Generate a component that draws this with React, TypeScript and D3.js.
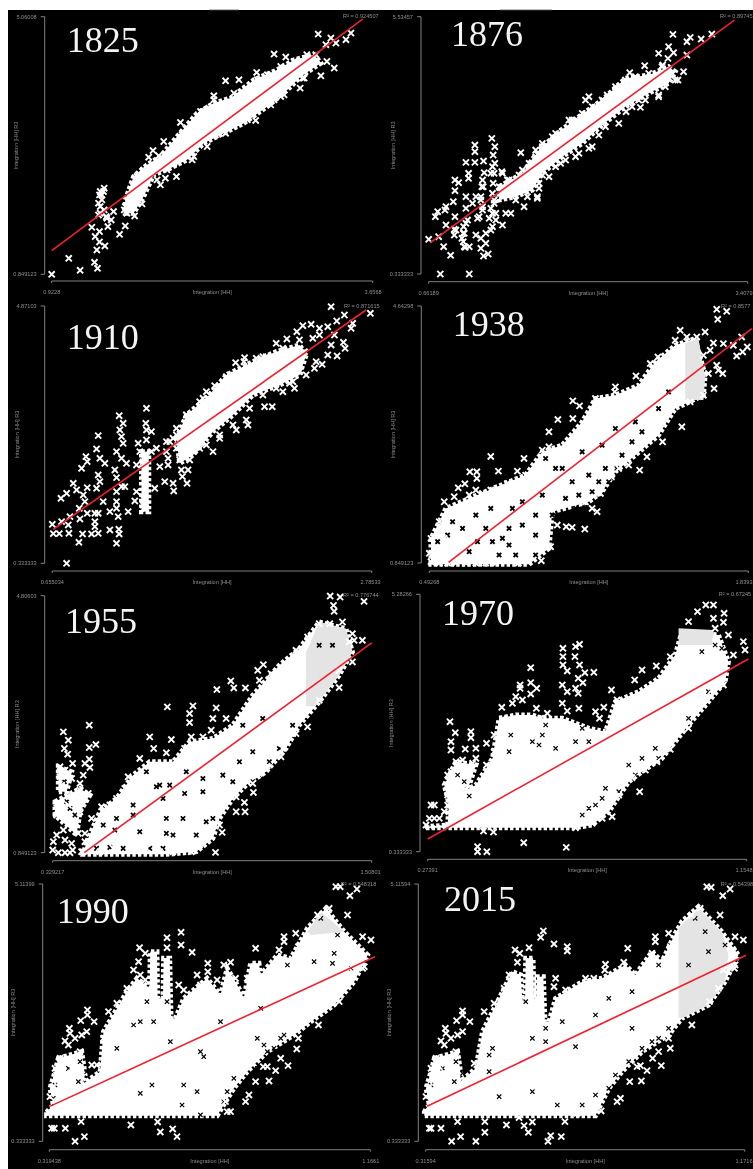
import React from "react";
import * as d3 from "d3";

type P = [number, number];

// Every reading below is a position along the panel's own axes, on a 0..960 (x) by 0..772 (y) reading grid.
const READ_X = 960;
const READ_Y = 772;

const cloud1825: P[] = [[220,223],[245,293],[285,328],[325,353],[375,413],[435,483],[485,513],[535,528],[605,583],[675,613],[725,643],[785,658],[805,633],[745,593],[705,553],[645,503],[575,453],[515,423],[455,393],[405,343],[355,318],[305,298],[275,233],[245,183],[220,183]];
const marks1825: P[] = [[0,0],[51,48],[85,12],[128,36],[137,18],[135,73],[159,85],[143,97],[130,113],[143,128],[120,141],[168,143],[203,120],[178,163],[163,173],[185,188],[140,178],[157,193],[220,145],[248,175],[145,203],[150,223],[143,238],[157,258],[145,248],[230,213],[270,211],[325,268],[340,288],[335,398],[303,371],[290,351],[320,355],[345,355],[373,293],[420,343],[385,455],[445,488],[485,535],[520,580],[560,583],[613,605],[665,660],[700,651],[763,658],[797,720],[835,708],[820,688],[850,693],[880,703],[895,723],[823,638],[845,618],[805,595],[743,558],[695,538],[610,461],[490,418],[520,423],[465,383],[425,353],[285,313],[255,263],[225,193],[220,203],[275,303],[405,423],[545,543],[635,573],[685,608],[730,628],[775,633],[755,588],[665,523],[585,463],[545,448],[235,233],[245,263],[255,293],[275,313],[300,328],[225,183],[217,193],[235,223],[270,268],[285,283],[310,323],[355,353],[365,383],[390,418],[415,438],[435,473],[455,488],[470,498],[485,523],[445,413],[485,433],[525,448],[565,463],[615,493],[655,508],[685,533],[715,578],[750,588],[685,623],[725,638],[765,648],[790,658],[530,518],[565,533],[580,553],[615,583],[645,598],[505,493],[435,393],[390,353],[365,333],[345,313],[315,283],[150,238],[140,213],[155,248],[145,183],[165,168]];

const cloud1876: P[] = [[212,262],[282,302],[332,372],[392,427],[452,472],[522,522],[592,587],[662,597],[722,622],[742,607],[722,572],[662,542],[592,502],[522,447],[462,392],[402,352],[342,302],[312,252],[262,232],[212,222]];
const marks1876: P[] = [[35,0],[122,0],[0,104],[66,56],[45,82],[30,112],[165,54],[179,60],[172,92],[157,77],[157,107],[110,80],[122,82],[100,107],[77,117],[142,117],[52,147],[79,172],[77,134],[105,142],[82,132],[20,172],[27,187],[52,202],[74,217],[49,192],[112,197],[112,232],[142,232],[162,192],[147,167],[182,167],[202,182],[222,147],[192,142],[247,182],[287,202],[327,227],[112,335],[139,335],[165,339],[139,387],[139,367],[190,407],[199,382],[194,357],[199,332],[120,302],[120,287],[79,282],[90,274],[79,250],[162,282],[164,262],[167,304],[187,302],[220,307],[277,364],[302,332],[192,242],[197,212],[157,232],[132,212],[152,172],[117,162],[107,122],[262,252],[297,232],[332,257],[397,332],[442,352],[482,377],[512,417],[482,532],[537,537],[594,487],[637,500],[605,604],[650,625],[692,662],[722,682],[735,719],[737,664],[720,647],[704,627],[777,697],[787,710],[820,705],[852,720],[767,607],[750,582],[777,657],[692,537],[442,462],[472,522],[422,462],[382,422],[342,382],[322,352],[562,562],[632,522],[712,562],[282,312],[242,282],[322,372],[342,392],[372,412],[402,427],[432,462],[462,482],[492,502],[522,522],[562,552],[592,582],[622,592],[662,602],[702,622],[382,322],[412,342],[452,362],[492,382],[532,442],[572,452],[612,502],[652,522],[692,532],[742,582],[222,302],[237,282],[272,297],[302,312],[327,232],[332,272],[292,252],[262,222],[232,182],[212,262],[197,222],[192,182],[202,162],[187,132],[172,122],[362,292],[342,297],[104,97],[107,82],[104,122],[112,152],[162,202],[157,222],[160,262],[192,322],[197,302],[194,272],[187,197]];

const cloud1910: P[] = [[373,375],[403,445],[463,495],[523,565],[603,605],[673,635],[743,655],[763,625],[743,565],[683,535],[603,505],[543,445],[483,395],[423,325],[383,300]];
const strip1910: P[] = [[268,335],[290,335],[290,155],[268,155]];
const marks1910: P[] = [[43,0],[0,117],[3,89],[21,89],[50,90],[80,63],[91,88],[118,88],[138,90],[173,100],[200,102],[201,88],[193,60],[48,115],[28,125],[53,140],[83,133],[105,150],[128,150],[138,150],[128,125],[128,110],[81,165],[93,205],[98,185],[26,195],[43,210],[63,240],[73,220],[105,227],[88,285],[101,320],[105,305],[133,343],[138,383],[143,315],[158,300],[138,265],[143,245],[133,225],[153,185],[173,155],[193,165],[228,155],[198,140],[188,280],[193,257],[208,230],[218,230],[193,215],[193,185],[208,315],[223,300],[193,335],[213,360],[208,380],[203,400],[213,420],[201,443],[283,465],[281,420],[283,400],[298,395],[258,360],[283,370],[263,335],[253,295],[253,215],[248,187],[281,165],[323,290],[308,225],[338,245],[363,240],[365,217],[388,280],[408,280],[391,260],[405,240],[348,295],[343,335],[353,365],[373,385],[413,310],[443,345],[483,335],[503,375],[553,400],[583,430],[638,470],[661,470],[588,415],[693,515],[728,525],[788,585],[811,597],[828,625],[856,622],[880,645],[875,663],[838,655],[848,685],[898,705],[903,720],[878,745],[855,727],[838,770],[956,750],[828,710],[803,705],[778,717],[753,713],[735,695],[705,673],[673,660],[578,617],[551,602],[576,605],[643,600],[488,533],[463,515],[443,485],[403,445],[793,605],[723,545],[763,565],[633,620],[533,565],[373,405],[403,445],[433,460],[453,495],[493,515],[523,560],[563,565],[613,615],[643,620],[693,645],[743,670],[783,675],[803,685],[758,635],[743,575],[713,540],[673,525],[633,505],[593,465],[543,415],[503,385],[463,355],[423,335],[383,310],[373,345],[388,365],[273,305],[273,265],[273,195],[273,175],[283,245],[298,335],[313,345],[343,365],[348,315],[363,375]];

const cloud1938: P[] = [[5,-4],[5,74],[50,164],[120,194],[240,244],[290,264],[340,334],[400,354],[460,424],[500,494],[560,504],[630,534],[680,604],[740,654],[800,674],[830,564],[825,504],[740,464],[690,384],[620,324],[560,274],[520,214],[480,184],[370,154],[360,44],[300,-4]];
const shade1938: P[] = [[770,660],[810,674],[830,560],[825,490],[770,490]];
const holes1938: P[] = [[25,64],[55,84],[100,104],[140,144],[185,164],[250,164],[190,64],[220,74],[240,104],[260,24],[210,24],[145,64],[70,124],[30,124],[120,34],[170,104],[320,24],[320,144],[320,84],[370,144],[410,194],[440,164],[340,204],[380,284],[400,284],[350,314],[520,354],[530,284],[580,324],[610,364],[640,394],[560,404],[460,334],[480,264],[540,244],[490,214],[430,244],[280,114],[240,54],[280,184],[510,244],[450,204],[565,284],[620,424],[690,464],[720,514]];
const marks1938: P[] = [[0,29],[22,34],[5,74],[20,92],[45,74],[30,124],[52,154],[45,184],[75,199],[62,149],[87,226],[107,238],[122,274],[143,274],[143,254],[185,320],[208,276],[265,276],[285,314],[120,204],[140,219],[160,209],[185,219],[215,219],[235,239],[290,264],[305,244],[340,339],[360,349],[360,394],[387,431],[432,487],[452,472],[432,434],[465,419],[500,494],[508,479],[560,529],[558,514],[622,562],[688,619],[665,599],[740,669],[755,699],[775,679],[805,679],[830,694],[855,661],[885,659],[865,762],[895,756],[868,732],[940,679],[915,654],[957,649],[943,634],[925,622],[883,569],[865,594],[870,579],[857,524],[840,569],[825,624],[845,639],[825,504],[785,484],[760,409],[702,364],[655,319],[633,279],[600,294],[570,284],[548,259],[515,209],[490,164],[505,154],[468,102],[430,107],[412,109],[385,114],[365,49],[350,59],[337,7],[295,6],[268,0],[230,4],[200,0],[170,0],[140,0],[110,0],[80,0],[55,0],[30,0],[5,4],[320,104],[360,164],[470,184]];

const cloud1955: P[] = [[102,33],[142,123],[192,163],[242,233],[292,273],[362,273],[412,333],[482,343],[542,383],[602,473],[682,563],[742,613],[802,693],[882,673],[902,603],[862,533],[802,453],[742,383],[702,313],[642,243],[582,203],[542,163],[502,103],[482,43],[432,3],[342,-5],[92,-5]];
const left1955: P[] = [[7,153],[82,193],[112,173],[82,123],[72,53],[7,113]];
const upper1955: P[] = [[17,258],[57,243],[42,183],[17,183]];
const shade1955: P[] = [[762,600],[802,693],[882,673],[902,603],[862,533],[790,440],[762,440]];
const holes1955: P[] = [[312,198],[332,163],[242,143],[132,13],[172,16],[152,83],[187,68],[242,113],[342,103],[392,103],[362,53],[332,13],[397,178],[452,183],[452,223],[352,203],[402,243],[312,293],[482,103],[462,93],[562,273],[602,213],[652,273],[632,403],[572,383],[802,623],[842,623],[262,63],[212,13],[322,203],[342,58],[292,13],[542,213],[512,233],[432,53],[282,243],[192,103],[722,383],[602,303],[682,313],[42,153],[67,113],[32,73],[52,133],[35,213]];
const marks1955: P[] = [[2,33],[12,53],[0,8],[17,0],[37,0],[52,0],[32,68],[37,38],[57,28],[60,8],[87,3],[97,33],[117,33],[77,58],[97,58],[72,88],[47,88],[12,148],[27,148],[12,113],[32,113],[47,143],[57,168],[82,188],[107,178],[72,138],[92,158],[82,123],[22,258],[22,228],[27,203],[47,233],[57,223],[37,248],[82,208],[92,233],[32,363],[47,338],[35,313],[45,296],[60,268],[110,383],[110,316],[130,325],[110,281],[97,268],[112,256],[117,103],[147,138],[172,143],[192,163],[217,193],[227,228],[262,283],[292,348],[304,313],[345,438],[357,340],[342,300],[412,418],[422,441],[412,391],[417,348],[397,313],[452,348],[477,368],[492,435],[482,403],[494,490],[522,403],[536,516],[545,495],[580,495],[617,548],[634,565],[657,538],[622,518],[642,493],[607,453],[702,568],[732,608],[767,648],[802,688],[834,688],[872,693],[845,743],[847,725],[835,771],[865,768],[937,755],[902,658],[932,638],[907,638],[892,633],[902,573],[862,548],[862,496],[802,458],[767,378],[722,358],[732,358],[692,313],[687,288],[645,260],[622,238],[602,208],[604,181],[577,151],[579,123],[552,123],[510,61],[490,1],[442,23],[417,3],[362,3],[322,3],[282,13],[242,13],[182,13],[142,3],[92,3],[502,83],[552,168],[472,63]];

const cloud1970: P[] = [[-8,75],[60,80],[65,160],[145,200],[195,280],[215,400],[265,410],[315,410],[345,400],[405,400],[485,370],[535,360],[565,450],[635,480],[695,520],[745,590],[765,660],[875,650],[905,570],[895,510],[845,450],[785,380],[745,330],[705,280],[645,240],[605,210],[545,120],[495,80],[445,72],[-8,72]];
const left1970: P[] = [[50,200],[85,270],[145,260],[125,200],[60,160]];
const shade1970: P[] = [[755,670],[860,665],[855,620],[755,620]];
const holes1970: P[] = [[125,167],[250,350],[245,300],[345,350],[335,320],[315,330],[385,310],[445,330],[485,330],[355,380],[465,370],[535,190],[525,160],[485,130],[465,110],[605,260],[625,230],[685,310],[695,280],[645,280],[575,180],[585,160],[505,140],[865,620],[885,610],[825,600],[845,480],[785,400],[90,230],[110,210]];
const marks1970: P[] = [[150,15],[150,0],[178,0],[168,62],[198,59],[289,27],[417,13],[445,72],[-5,80],[5,100],[20,100],[35,100],[10,140],[20,140],[50,120],[60,140],[60,170],[60,230],[60,200],[70,240],[85,270],[70,305],[70,330],[67,390],[83,357],[113,308],[130,360],[130,342],[145,310],[145,280],[135,265],[105,275],[177,325],[177,260],[200,350],[200,300],[223,433],[225,398],[278,500],[278,490],[265,465],[285,455],[255,445],[310,552],[310,507],[310,473],[328,490],[327,430],[340,400],[360,415],[407,610],[407,585],[407,560],[420,542],[405,500],[420,480],[445,615],[457,622],[443,585],[457,560],[473,537],[500,538],[453,520],[467,507],[445,490],[453,475],[405,445],[420,422],[455,430],[505,420],[530,433],[517,400],[553,485],[570,455],[623,515],[645,545],[688,557],[730,585],[638,180],[615,222],[655,245],[690,270],[730,307],[785,370],[830,440],[855,485],[890,500],[920,590],[950,630],[955,605],[892,715],[890,688],[860,740],[837,740],[812,720],[785,690],[860,700],[865,670],[905,650],[525,100],[555,105],[495,85],[575,170],[215,320],[405,355],[485,355]];

const cloud1990: P[] = [[-8,87],[2,99],[82,159],[152,209],[162,329],[232,449],[262,489],[300,459],[302,569],[322,569],[324,429],[340,429],[342,549],[360,549],[364,369],[377,369],[402,429],[472,489],[512,439],[532,519],[562,469],[582,429],[602,534],[627,534],[632,499],[682,559],[722,549],[772,639],[827,699],[882,629],[952,559],[912,479],[852,409],[782,359],[732,319],[652,269],[592,209],[552,159],[502,77],[-8,77]];
const left1990: P[] = [[27,249],[97,269],[107,199],[87,149],[12,109],[2,159],[17,209]];
const shade1990: P[] = [[772,629],[812,689],[882,629],[782,619]];
const holes1990: P[] = [[202,279],[252,349],[292,419],[312,359],[362,299],[452,269],[512,359],[622,309],[452,79],[632,399],[672,279],[692,309],[652,269],[552,189],[532,149],[522,119],[622,219],[812,669],[852,564],[902,519],[847,534],[792,539],[307,169],[402,169],[442,149],[462,254],[272,144],[397,109],[57,219],[17,169],[112,209],[87,179],[92,239],[12,129],[712,529],[702,319],[642,289],[862,619],[272,359],[352,419]];
const marks1990: P[] = [[15,39],[7,39],[48,39],[95,59],[77,0],[105,14],[244,49],[324,58],[332,28],[369,37],[382,14],[542,89],[532,89],[587,119],[597,139],[527,119],[657,181],[617,179],[677,212],[714,227],[640,224],[652,224],[692,249],[740,277],[745,309],[805,349],[867,419],[892,469],[937,519],[962,604],[937,614],[892,679],[899,737],[920,757],[857,764],[870,764],[837,699],[802,679],[737,624],[702,614],[702,599],[745,584],[687,574],[617,579],[542,537],[522,529],[474,534],[474,509],[442,499],[427,567],[394,589],[394,627],[352,611],[352,581],[287,564],[270,581],[267,539],[252,514],[272,499],[287,484],[232,459],[202,414],[177,389],[134,359],[114,394],[114,379],[94,362],[112,329],[97,319],[60,339],[62,324],[47,301],[77,309],[57,289],[92,269],[32,249],[17,219],[42,224],[67,219],[22,199],[52,189],[12,164],[2,134],[62,169],[22,119],[17,109],[77,159],[92,199],[387,469],[402,454],[427,439],[452,469],[502,484],[557,489],[162,309],[172,269],[142,229],[127,229],[592,489],[927,569],[942,524],[897,519]];

const cloud2015: P[] = [[-4,87],[1,99],[81,159],[151,219],[171,329],[231,449],[261,509],[286,499],[291,419],[299,419],[301,549],[323,549],[326,429],[333,429],[335,494],[354,494],[359,359],[371,359],[391,429],[471,479],[531,489],[601,529],[631,499],[681,569],[711,539],[751,624],[771,659],[821,704],[891,629],[941,559],[901,479],[851,409],[771,369],[731,319],[651,269],[591,209],[551,159],[511,77],[-4,77]];
const left2015: P[] = [[26,249],[96,269],[106,199],[86,149],[11,109],[1,159],[16,209]];
const shade2015: P[] = [[761,640],[821,700],[891,629],[911,560],[901,479],[851,409],[771,369],[761,372]];
const holes2015: P[] = [[201,279],[191,259],[321,309],[361,299],[451,284],[321,149],[221,134],[396,109],[511,379],[621,449],[701,529],[791,529],[851,569],[811,669],[841,629],[701,309],[651,279],[681,299],[611,239],[571,199],[511,139],[471,109],[551,159],[731,339],[411,359],[551,429],[51,219],[111,204],[16,169],[86,179],[91,239],[191,209],[901,589],[301,419],[361,339],[621,339]];
const marks2015: P[] = [[11,39],[16,39],[46,39],[96,59],[78,0],[105,14],[151,0],[178,59],[178,27],[243,49],[296,47],[309,27],[321,58],[281,71],[376,17],[368,0],[408,14],[419,59],[528,91],[456,84],[586,129],[576,119],[649,181],[614,179],[666,212],[709,227],[636,224],[646,227],[683,249],[701,269],[736,279],[731,309],[801,349],[854,419],[881,459],[929,519],[956,604],[931,614],[886,679],[894,737],[916,757],[846,764],[859,762],[826,699],[801,679],[731,624],[691,614],[691,599],[736,584],[681,564],[608,579],[541,531],[539,514],[596,537],[426,584],[426,571],[386,592],[346,612],[354,631],[311,581],[283,564],[269,574],[276,537],[251,499],[256,479],[236,459],[206,414],[176,389],[133,359],[111,391],[111,379],[93,362],[111,329],[96,319],[59,339],[61,324],[46,301],[76,309],[56,289],[91,269],[31,249],[16,219],[41,224],[66,219],[21,199],[51,189],[11,164],[1,134],[61,169],[21,119],[16,109],[76,159],[91,199],[391,489],[386,464],[421,454],[481,489],[506,489],[586,489],[181,329],[171,239],[146,234],[926,569],[931,529],[896,514]];

const fit1825: [P, P] = [[0,71],[930,765]];
const fit1876: [P, P] = [[5,94],[920,762]];
const fit1910: [P, P] = [[3,102],[943,760]];
const fit1938: [P, P] = [[58,2],[971,704]];
const fit1955: [P, P] = [[95,0],[960,630]];
const fit1970: [P, P] = [[0,38],[965,578]];
const fit1990: [P, P] = [[0,104],[974,554]];
const fit2015: [P, P] = [[4,105],[964,558]];

const years = ["1825","1876","1910","1938","1955","1970","1990","2015"];
const rSquared = ["R² = 0.924507","R² = 0.89745","R² = 0.871615","R² = 0.8577","R² = 0.776744","R² = 0.67245","R² = 0.548318","R² = 0.54398"];
const xDomains: P[] = [[0.9228,3.6568],[0.66189,3.4079],[0.655034,2.78533],[0.49268,1.8393],[0.329217,1.50801],[0.27391,1.1548],[0.319438,1.1661],[0.31594,1.1716]];
const yDomains: P[] = [[0.849123,5.06008],[0.333333,5.53457],[0.333333,4.87103],[0.849123,4.64298],[0.849123,4.80603],[0.333333,5.28266],[0.333333,5.11399],[0.333333,5.11594]];
const xTickLabels: [string,string][] = [["0.9228","3.6568"],["0.66189","3.4079"],["0.655034","2.78533"],["0.49268","1.8393"],["0.329217","1.50801"],["0.27391","1.1548"],["0.319438","1.1661"],["0.31594","1.1716"]];
const yTickLabels: [string,string][] = [["0.849123","5.06008"],["0.333333","5.53457"],["0.333333","4.87103"],["0.849123","4.64298"],["0.849123","4.80603"],["0.333333","5.28266"],["0.333333","5.11399"],["0.333333","5.11594"]];

const clouds: P[][][] = [[cloud1825],[cloud1876],[cloud1910,strip1910],[cloud1938],[cloud1955,left1955,upper1955],[cloud1970,left1970],[cloud1990,left1990],[cloud2015,left2015]];
const shades: P[][] = [[],[],[],shade1938,shade1955,shade1970,shade1990,shade2015];
const holes: P[][] = [[],[],[],holes1938,holes1955,holes1970,holes1990,holes2015];
const marks: P[][] = [marks1825,marks1876,marks1910,marks1938,marks1955,marks1970,marks1990,marks2015];
const fits = [fit1825,fit1876,fit1910,fit1938,fit1955,fit1970,fit1990,fit2015];
const holeWidths = [1, 1, 1, 1.9, 1.7, 1.2, 1.2, 1.2];

// layout: yAxisX, yTop, yBottom, xAxisY, xLeft, xRight, titleX, titleY, r2X, yLabelX
const layouts = [
  { ax: 44.7, top: 16.7, bot: 274.3, ay: 281, l: 51.7, r: 372.7, tx: 66.7, ty: 52, rx: 343, lx: 16 },
  { ax: 421, top: 16.7, bot: 274, ay: 281.7, l: 428.7, r: 747.7, tx: 451, ty: 46, rx: 720, lx: 392.7 },
  { ax: 44.7, top: 306, bot: 563.3, ay: 571, l: 52.3, r: 371.7, tx: 66.7, ty: 349, rx: 344, lx: 16.7 },
  { ax: 421.3, top: 306, bot: 563, ay: 571, l: 429.3, r: 748.3, tx: 452.7, ty: 336, rx: 721, lx: 392.7 },
  { ax: 44.7, top: 595.7, bot: 852.7, ay: 860.7, l: 52.7, r: 371.7, tx: 65, ty: 633, rx: 343, lx: 16.7 },
  { ax: 420, top: 594.3, bot: 851.7, ay: 859.3, l: 427.7, r: 746.7, tx: 442, ty: 625, rx: 718.7, lx: 391 },
  { ax: 42.7, top: 884, bot: 1141.3, ay: 1149.7, l: 49.3, r: 370.3, tx: 56.7, ty: 922.7, rx: 340.7, lx: 13.3 },
  { ax: 418.3, top: 884, bot: 1141.3, ay: 1149.7, l: 425.7, r: 744.7, tx: 444, ty: 910.7, rx: 720.7, lx: 389.3 },
];

const SANS = "'Liberation Sans', Arial, sans-serif";
const GREY = "#8e8e8e";
const crossPath = d3.symbol().type(d3.symbolTimes).size(26)() as string;
const holePath = d3.symbol().type(d3.symbolTimes).size(14)() as string;

function Panel({ i }: { i: number }) {
  const g = layouts[i];
  const [x0, x1] = xDomains[i];
  const [y0, y1] = yDomains[i];
  const xScale = d3.scaleLinear().domain([x0, x1]).range([g.l, g.r]);
  const yScale = d3.scaleLinear().domain([y0, y1]).range([g.bot, g.top]);
  const px = (r: number) => xScale(x0 + (r / READ_X) * (x1 - x0));
  const py = (r: number) => yScale(y0 + (r / READ_Y) * (y1 - y0));
  const area = d3.line<P>().x((d) => px(d[0])).y((d) => py(d[1]));
  const closed = (pts: P[]) => (pts.length ? area(pts) + "Z" : "");
  const midX = (g.l + g.r) / 2;
  const midY = (g.top + g.bot) / 2;
  const rightEnd = Math.min(g.r + 9, 752.5);
  return (
    <g>
      <g fill="#fff" stroke="#fff" strokeWidth={5} strokeDasharray="3.4 2.2">
        {clouds[i].map((c, k) => <path key={k} d={closed(c)} />)}
      </g>
      <path d={closed(shades[i])} fill="#e4e4e4" />
      <g fill="none" stroke="#000" strokeWidth={holeWidths[i]}>
        {holes[i].map((d, k) => <path key={k} d={holePath} transform={`translate(${px(d[0])},${py(d[1])})`} />)}
      </g>
      <g fill="none" stroke="#fff" strokeWidth={1.9}>
        {marks[i].map((d, k) => <path key={k} d={crossPath} transform={`translate(${px(d[0])},${py(d[1])})`} />)}
      </g>
      <path d={area(fits[i]) as string} fill="none" stroke="#f0202f" strokeWidth={1.6} />
      <path d={`M${g.ax - 4},${g.top}H${g.ax}V${g.bot}H${g.ax - 4}`} fill="none" stroke={GREY} strokeWidth={0.9} />
      <path d={`M${g.l},${g.ay + 2}V${g.ay}H${g.r}V${g.ay + 2}`} fill="none" stroke={GREY} strokeWidth={0.9} />
      <g fill={GREY} fontFamily={SANS} fontSize={5.6}>
        <text x={g.ax - 8} y={g.top + 2} textAnchor="end">{yTickLabels[i][1]}</text>
        <text x={g.ax - 8} y={g.bot + 2} textAnchor="end">{yTickLabels[i][0]}</text>
        <text x={g.l} y={g.ay + 13} textAnchor="middle">{xTickLabels[i][0]}</text>
        <text x={rightEnd} y={g.ay + 13} textAnchor="end">{xTickLabels[i][1]}</text>
        <text x={midX} y={g.ay + 13} textAnchor="middle">Integration [HH]</text>
        <text x={g.rx} y={g.top + 1.5}>{rSquared[i]}</text>
        <text transform={`translate(${g.lx + 2},${midY}) rotate(-90)`} textAnchor="middle">Integration [HH] R3</text>
      </g>
      <text x={g.tx} y={g.ty} fill="#f4f4f4" fontFamily="'Liberation Serif', serif" fontSize={36}>{years[i]}</text>
    </g>
  );
}

export default function App() {
  return (
    <svg width={753} height={1169} style={{ position: "fixed", left: 0, top: 0, background: "#fff" }}>
      <defs>
        <filter id="soft" x="0" y="0" width="100%" height="100%">
          <feGaussianBlur stdDeviation={0.4} />
        </filter>
      </defs>
      <rect x={8} y={10} width={745} height={1159} fill="#000" />
      <rect x={209} y={9} width={30} height={1.2} fill="#bbb" />
      <rect x={500} y={9} width={52} height={1.2} fill="#bbb" />
      <g filter="url(#soft)">
        {years.map((_, i) => <Panel key={i} i={i} />)}
      </g>
    </svg>
  );
}
